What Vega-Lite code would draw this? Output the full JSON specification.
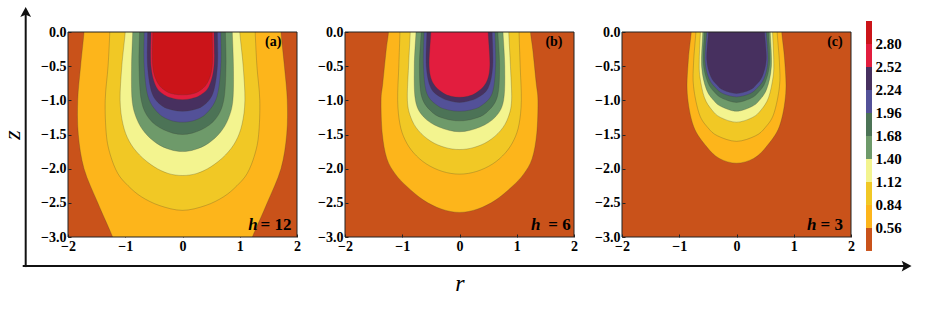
{
"$schema": "https://vega.github.io/schema/vega-lite/v6.json",
"background": "white",
"padding": {"left": 0, "top": 7, "right": 5, "bottom": 5},
"bounds": "flush",
"spacing": 15,
"config": {
  "view": {"stroke": null},
  "axis": {"labelFont": "Liberation Serif, Times New Roman, DejaVu Serif, serif", "labelFontWeight": "bold", "labelFontSize": 14, "labelColor": "#000",
           "titleFont": "Liberation Serif, Times New Roman, DejaVu Serif, serif", "titleFontStyle": "italic", "titleFontWeight": "normal", "titleFontSize": 24, "titleColor": "#000",
           "grid": false, "domain": false, "ticks": false, "labelFlush": false, "labelOverlap": false}
},
"datasets": {
"a": [
{"l":1,"i":0,"r":-1.72,"z":0.2},{"l":1,"i":1,"r":-1.72,"z":0},{"l":1,"i":2,"r":-1.78,"z":-0.5},{"l":1,"i":3,"r":-1.83,"z":-1},{"l":1,"i":4,"r":-1.82,"z":-1.5},{"l":1,"i":5,"r":-1.72,"z":-2},{"l":1,"i":6,"r":-1.48,"z":-2.5},{"l":1,"i":7,"r":-1.22,"z":-3},{"l":1,"i":8,"r":-1.14,"z":-3.2},{"l":1,"i":9,"r":1.14,"z":-3.2},{"l":1,"i":10,"r":1.22,"z":-3},{"l":1,"i":11,"r":1.48,"z":-2.5},{"l":1,"i":12,"r":1.72,"z":-2},{"l":1,"i":13,"r":1.82,"z":-1.5},{"l":1,"i":14,"r":1.83,"z":-1},{"l":1,"i":15,"r":1.78,"z":-0.5},{"l":1,"i":16,"r":1.72,"z":0},{"l":1,"i":17,"r":1.72,"z":0.2},
{"l":2,"i":0,"r":-1.27,"z":0.2},{"l":2,"i":1,"r":-1.27,"z":0},{"l":2,"i":2,"r":-1.3,"z":-0.5},{"l":2,"i":3,"r":-1.35,"z":-1},{"l":2,"i":4,"r":-1.33,"z":-1.5},{"l":2,"i":5,"r":-1.26,"z":-1.8},{"l":2,"i":6,"r":-1.13,"z":-2.07},{"l":2,"i":7,"r":-0.95,"z":-2.25},{"l":2,"i":8,"r":-0.72,"z":-2.41},{"l":2,"i":9,"r":-0.4,"z":-2.54},{"l":2,"i":10,"r":0,"z":-2.61},{"l":2,"i":11,"r":0.4,"z":-2.54},{"l":2,"i":12,"r":0.72,"z":-2.41},{"l":2,"i":13,"r":0.95,"z":-2.25},{"l":2,"i":14,"r":1.13,"z":-2.07},{"l":2,"i":15,"r":1.26,"z":-1.8},{"l":2,"i":16,"r":1.33,"z":-1.5},{"l":2,"i":17,"r":1.35,"z":-1},{"l":2,"i":18,"r":1.3,"z":-0.5},{"l":2,"i":19,"r":1.27,"z":0},{"l":2,"i":20,"r":1.27,"z":0.2},
{"l":3,"i":0,"r":-1,"z":0.2},{"l":3,"i":1,"r":-1,"z":0},{"l":3,"i":2,"r":-1.06,"z":-0.5},{"l":3,"i":3,"r":-1.09,"z":-1},{"l":3,"i":4,"r":-1.04,"z":-1.35},{"l":3,"i":5,"r":-0.93,"z":-1.6},{"l":3,"i":6,"r":-0.75,"z":-1.8},{"l":3,"i":7,"r":-0.5,"z":-1.97},{"l":3,"i":8,"r":-0.25,"z":-2.07},{"l":3,"i":9,"r":0,"z":-2.1},{"l":3,"i":10,"r":0.25,"z":-2.07},{"l":3,"i":11,"r":0.5,"z":-1.97},{"l":3,"i":12,"r":0.75,"z":-1.8},{"l":3,"i":13,"r":0.93,"z":-1.6},{"l":3,"i":14,"r":1.04,"z":-1.35},{"l":3,"i":15,"r":1.09,"z":-1},{"l":3,"i":16,"r":1.06,"z":-0.5},{"l":3,"i":17,"r":1,"z":0},{"l":3,"i":18,"r":1,"z":0.2},
{"l":4,"i":0,"r":-0.87,"z":0.2},{"l":4,"i":1,"r":-0.87,"z":0},{"l":4,"i":2,"r":-0.89,"z":-0.5},{"l":4,"i":3,"r":-0.88,"z":-1},{"l":4,"i":4,"r":-0.8,"z":-1.27},{"l":4,"i":5,"r":-0.66,"z":-1.47},{"l":4,"i":6,"r":-0.45,"z":-1.63},{"l":4,"i":7,"r":-0.22,"z":-1.72},{"l":4,"i":8,"r":0,"z":-1.75},{"l":4,"i":9,"r":0.22,"z":-1.72},{"l":4,"i":10,"r":0.45,"z":-1.63},{"l":4,"i":11,"r":0.66,"z":-1.47},{"l":4,"i":12,"r":0.8,"z":-1.27},{"l":4,"i":13,"r":0.88,"z":-1},{"l":4,"i":14,"r":0.89,"z":-0.5},{"l":4,"i":15,"r":0.87,"z":0},{"l":4,"i":16,"r":0.87,"z":0.2},
{"l":5,"i":0,"r":-0.75,"z":0.2},{"l":5,"i":1,"r":-0.75,"z":0},{"l":5,"i":2,"r":-0.76,"z":-0.5},{"l":5,"i":3,"r":-0.72,"z":-1},{"l":5,"i":4,"r":-0.58,"z":-1.27},{"l":5,"i":5,"r":-0.33,"z":-1.43},{"l":5,"i":6,"r":0,"z":-1.5},{"l":5,"i":7,"r":0.33,"z":-1.43},{"l":5,"i":8,"r":0.58,"z":-1.27},{"l":5,"i":9,"r":0.72,"z":-1},{"l":5,"i":10,"r":0.76,"z":-0.5},{"l":5,"i":11,"r":0.75,"z":0},{"l":5,"i":12,"r":0.75,"z":0.2},
{"l":6,"i":0,"r":-0.67,"z":0.2},{"l":6,"i":1,"r":-0.67,"z":0},{"l":6,"i":2,"r":-0.67,"z":-0.5},{"l":6,"i":3,"r":-0.6,"z":-0.95},{"l":6,"i":4,"r":-0.42,"z":-1.19},{"l":6,"i":5,"r":-0.22,"z":-1.29},{"l":6,"i":6,"r":0,"z":-1.32},{"l":6,"i":7,"r":0.22,"z":-1.29},{"l":6,"i":8,"r":0.42,"z":-1.19},{"l":6,"i":9,"r":0.6,"z":-0.95},{"l":6,"i":10,"r":0.67,"z":-0.5},{"l":6,"i":11,"r":0.67,"z":0},{"l":6,"i":12,"r":0.67,"z":0.2},
{"l":7,"i":0,"r":-0.61,"z":0.2},{"l":7,"i":1,"r":-0.61,"z":0},{"l":7,"i":2,"r":-0.61,"z":-0.5},{"l":7,"i":3,"r":-0.53,"z":-0.9},{"l":7,"i":4,"r":-0.36,"z":-1.08},{"l":7,"i":5,"r":-0.18,"z":-1.14},{"l":7,"i":6,"r":0,"z":-1.16},{"l":7,"i":7,"r":0.18,"z":-1.14},{"l":7,"i":8,"r":0.36,"z":-1.08},{"l":7,"i":9,"r":0.53,"z":-0.9},{"l":7,"i":10,"r":0.61,"z":-0.5},{"l":7,"i":11,"r":0.61,"z":0},{"l":7,"i":12,"r":0.61,"z":0.2},
{"l":8,"i":0,"r":-0.55,"z":0.2},{"l":8,"i":1,"r":-0.55,"z":0},{"l":8,"i":2,"r":-0.55,"z":-0.5},{"l":8,"i":3,"r":-0.46,"z":-0.8},{"l":8,"i":4,"r":-0.3,"z":-0.93},{"l":8,"i":5,"r":-0.15,"z":-0.975},{"l":8,"i":6,"r":0,"z":-0.99},{"l":8,"i":7,"r":0.15,"z":-0.975},{"l":8,"i":8,"r":0.3,"z":-0.93},{"l":8,"i":9,"r":0.46,"z":-0.8},{"l":8,"i":10,"r":0.55,"z":-0.5},{"l":8,"i":11,"r":0.55,"z":0},{"l":8,"i":12,"r":0.55,"z":0.2},
{"l":9,"i":0,"r":-0.52,"z":0.2},{"l":9,"i":1,"r":-0.52,"z":0},{"l":9,"i":2,"r":-0.52,"z":-0.5},{"l":9,"i":3,"r":-0.43,"z":-0.75},{"l":9,"i":4,"r":-0.28,"z":-0.87},{"l":9,"i":5,"r":-0.14,"z":-0.91},{"l":9,"i":6,"r":0,"z":-0.92},{"l":9,"i":7,"r":0.14,"z":-0.91},{"l":9,"i":8,"r":0.28,"z":-0.87},{"l":9,"i":9,"r":0.43,"z":-0.75},{"l":9,"i":10,"r":0.52,"z":-0.5},{"l":9,"i":11,"r":0.52,"z":0},{"l":9,"i":12,"r":0.52,"z":0.2}
],
"b": [
{"l":1,"i":0,"r":-1.24,"z":0.2},{"l":1,"i":1,"r":-1.24,"z":0},{"l":1,"i":2,"r":-1.28,"z":-0.26},{"l":1,"i":3,"r":-1.34,"z":-0.75},{"l":1,"i":4,"r":-1.37,"z":-1},{"l":1,"i":5,"r":-1.35,"z":-1.48},{"l":1,"i":6,"r":-1.27,"z":-1.85},{"l":1,"i":7,"r":-1.12,"z":-2.08},{"l":1,"i":8,"r":-0.92,"z":-2.26},{"l":1,"i":9,"r":-0.63,"z":-2.46},{"l":1,"i":10,"r":-0.32,"z":-2.59},{"l":1,"i":11,"r":0,"z":-2.64},{"l":1,"i":12,"r":0.32,"z":-2.59},{"l":1,"i":13,"r":0.63,"z":-2.46},{"l":1,"i":14,"r":0.92,"z":-2.26},{"l":1,"i":15,"r":1.12,"z":-2.08},{"l":1,"i":16,"r":1.27,"z":-1.85},{"l":1,"i":17,"r":1.35,"z":-1.48},{"l":1,"i":18,"r":1.37,"z":-1},{"l":1,"i":19,"r":1.34,"z":-0.75},{"l":1,"i":20,"r":1.28,"z":-0.26},{"l":1,"i":21,"r":1.24,"z":0},{"l":1,"i":22,"r":1.24,"z":0.2},
{"l":2,"i":0,"r":-1.04,"z":0.2},{"l":2,"i":1,"r":-1.04,"z":0},{"l":2,"i":2,"r":-1.06,"z":-0.5},{"l":2,"i":3,"r":-1.08,"z":-1},{"l":2,"i":4,"r":-1.04,"z":-1.35},{"l":2,"i":5,"r":-0.95,"z":-1.58},{"l":2,"i":6,"r":-0.8,"z":-1.77},{"l":2,"i":7,"r":-0.58,"z":-1.93},{"l":2,"i":8,"r":-0.3,"z":-2.04},{"l":2,"i":9,"r":0,"z":-2.08},{"l":2,"i":10,"r":0.3,"z":-2.04},{"l":2,"i":11,"r":0.58,"z":-1.93},{"l":2,"i":12,"r":0.8,"z":-1.77},{"l":2,"i":13,"r":0.95,"z":-1.58},{"l":2,"i":14,"r":1.04,"z":-1.35},{"l":2,"i":15,"r":1.08,"z":-1},{"l":2,"i":16,"r":1.06,"z":-0.5},{"l":2,"i":17,"r":1.04,"z":0},{"l":2,"i":18,"r":1.04,"z":0.2},
{"l":3,"i":0,"r":-0.86,"z":0.2},{"l":3,"i":1,"r":-0.86,"z":0},{"l":3,"i":2,"r":-0.89,"z":-0.5},{"l":3,"i":3,"r":-0.91,"z":-1},{"l":3,"i":4,"r":-0.85,"z":-1.25},{"l":3,"i":5,"r":-0.72,"z":-1.44},{"l":3,"i":6,"r":-0.5,"z":-1.6},{"l":3,"i":7,"r":-0.25,"z":-1.69},{"l":3,"i":8,"r":0,"z":-1.72},{"l":3,"i":9,"r":0.25,"z":-1.69},{"l":3,"i":10,"r":0.5,"z":-1.6},{"l":3,"i":11,"r":0.72,"z":-1.44},{"l":3,"i":12,"r":0.85,"z":-1.25},{"l":3,"i":13,"r":0.91,"z":-1},{"l":3,"i":14,"r":0.89,"z":-0.5},{"l":3,"i":15,"r":0.86,"z":0},{"l":3,"i":16,"r":0.86,"z":0.2},
{"l":4,"i":0,"r":-0.76,"z":0.2},{"l":4,"i":1,"r":-0.76,"z":0},{"l":4,"i":2,"r":-0.79,"z":-0.5},{"l":4,"i":3,"r":-0.77,"z":-1},{"l":4,"i":4,"r":-0.63,"z":-1.24},{"l":4,"i":5,"r":-0.36,"z":-1.39},{"l":4,"i":6,"r":0,"z":-1.46},{"l":4,"i":7,"r":0.36,"z":-1.39},{"l":4,"i":8,"r":0.63,"z":-1.24},{"l":4,"i":9,"r":0.77,"z":-1},{"l":4,"i":10,"r":0.79,"z":-0.5},{"l":4,"i":11,"r":0.76,"z":0},{"l":4,"i":12,"r":0.76,"z":0.2},
{"l":5,"i":0,"r":-0.67,"z":0.2},{"l":5,"i":1,"r":-0.67,"z":0},{"l":5,"i":2,"r":-0.7,"z":-0.5},{"l":5,"i":3,"r":-0.66,"z":-0.95},{"l":5,"i":4,"r":-0.47,"z":-1.18},{"l":5,"i":5,"r":-0.25,"z":-1.27},{"l":5,"i":6,"r":0,"z":-1.3},{"l":5,"i":7,"r":0.25,"z":-1.27},{"l":5,"i":8,"r":0.47,"z":-1.18},{"l":5,"i":9,"r":0.66,"z":-0.95},{"l":5,"i":10,"r":0.7,"z":-0.5},{"l":5,"i":11,"r":0.67,"z":0},{"l":5,"i":12,"r":0.67,"z":0.2},
{"l":6,"i":0,"r":-0.62,"z":0.2},{"l":6,"i":1,"r":-0.62,"z":0},{"l":6,"i":2,"r":-0.63,"z":-0.5},{"l":6,"i":3,"r":-0.57,"z":-0.9},{"l":6,"i":4,"r":-0.38,"z":-1.08},{"l":6,"i":5,"r":-0.2,"z":-1.14},{"l":6,"i":6,"r":0,"z":-1.16},{"l":6,"i":7,"r":0.2,"z":-1.14},{"l":6,"i":8,"r":0.38,"z":-1.08},{"l":6,"i":9,"r":0.57,"z":-0.9},{"l":6,"i":10,"r":0.63,"z":-0.5},{"l":6,"i":11,"r":0.62,"z":0},{"l":6,"i":12,"r":0.62,"z":0.2},
{"l":7,"i":0,"r":-0.57,"z":0.2},{"l":7,"i":1,"r":-0.57,"z":0},{"l":7,"i":2,"r":-0.58,"z":-0.5},{"l":7,"i":3,"r":-0.5,"z":-0.82},{"l":7,"i":4,"r":-0.32,"z":-0.96},{"l":7,"i":5,"r":-0.16,"z":-1.01},{"l":7,"i":6,"r":0,"z":-1.03},{"l":7,"i":7,"r":0.16,"z":-1.01},{"l":7,"i":8,"r":0.32,"z":-0.96},{"l":7,"i":9,"r":0.5,"z":-0.82},{"l":7,"i":10,"r":0.58,"z":-0.5},{"l":7,"i":11,"r":0.57,"z":0},{"l":7,"i":12,"r":0.57,"z":0.2},
{"l":8,"i":0,"r":-0.5,"z":0.2},{"l":8,"i":1,"r":-0.5,"z":0},{"l":8,"i":2,"r":-0.53,"z":-0.5},{"l":8,"i":3,"r":-0.46,"z":-0.75},{"l":8,"i":4,"r":-0.29,"z":-0.89},{"l":8,"i":5,"r":-0.15,"z":-0.94},{"l":8,"i":6,"r":0,"z":-0.955},{"l":8,"i":7,"r":0.15,"z":-0.94},{"l":8,"i":8,"r":0.29,"z":-0.89},{"l":8,"i":9,"r":0.46,"z":-0.75},{"l":8,"i":10,"r":0.53,"z":-0.5},{"l":8,"i":11,"r":0.5,"z":0},{"l":8,"i":12,"r":0.5,"z":0.2}
],
"c": [
{"l":1,"i":0,"r":-0.79,"z":0.2},{"l":1,"i":1,"r":-0.79,"z":0},{"l":1,"i":2,"r":-0.84,"z":-0.4},{"l":1,"i":3,"r":-0.86,"z":-0.9},{"l":1,"i":4,"r":-0.75,"z":-1.38},{"l":1,"i":5,"r":-0.52,"z":-1.68},{"l":1,"i":6,"r":-0.3,"z":-1.85},{"l":1,"i":7,"r":0,"z":-1.92},{"l":1,"i":8,"r":0.3,"z":-1.85},{"l":1,"i":9,"r":0.52,"z":-1.68},{"l":1,"i":10,"r":0.75,"z":-1.38},{"l":1,"i":11,"r":0.86,"z":-0.9},{"l":1,"i":12,"r":0.84,"z":-0.4},{"l":1,"i":13,"r":0.79,"z":0},{"l":1,"i":14,"r":0.79,"z":0.2},
{"l":2,"i":0,"r":-0.71,"z":0.2},{"l":2,"i":1,"r":-0.71,"z":0},{"l":2,"i":2,"r":-0.75,"z":-0.45},{"l":2,"i":3,"r":-0.75,"z":-0.8},{"l":2,"i":4,"r":-0.65,"z":-1.2},{"l":2,"i":5,"r":-0.5,"z":-1.4},{"l":2,"i":6,"r":-0.33,"z":-1.52},{"l":2,"i":7,"r":0,"z":-1.6},{"l":2,"i":8,"r":0.33,"z":-1.52},{"l":2,"i":9,"r":0.5,"z":-1.4},{"l":2,"i":10,"r":0.65,"z":-1.2},{"l":2,"i":11,"r":0.75,"z":-0.8},{"l":2,"i":12,"r":0.75,"z":-0.45},{"l":2,"i":13,"r":0.71,"z":0},{"l":2,"i":14,"r":0.71,"z":0.2},
{"l":3,"i":0,"r":-0.63,"z":0.2},{"l":3,"i":1,"r":-0.63,"z":0},{"l":3,"i":2,"r":-0.65,"z":-0.4},{"l":3,"i":3,"r":-0.64,"z":-0.65},{"l":3,"i":4,"r":-0.56,"z":-0.96},{"l":3,"i":5,"r":-0.43,"z":-1.14},{"l":3,"i":6,"r":-0.28,"z":-1.25},{"l":3,"i":7,"r":0,"z":-1.32},{"l":3,"i":8,"r":0.28,"z":-1.25},{"l":3,"i":9,"r":0.43,"z":-1.14},{"l":3,"i":10,"r":0.56,"z":-0.96},{"l":3,"i":11,"r":0.64,"z":-0.65},{"l":3,"i":12,"r":0.65,"z":-0.4},{"l":3,"i":13,"r":0.63,"z":0},{"l":3,"i":14,"r":0.63,"z":0.2},
{"l":4,"i":0,"r":-0.59,"z":0.2},{"l":4,"i":1,"r":-0.59,"z":0},{"l":4,"i":2,"r":-0.61,"z":-0.5},{"l":4,"i":3,"r":-0.53,"z":-0.83},{"l":4,"i":4,"r":-0.4,"z":-1},{"l":4,"i":5,"r":-0.27,"z":-1.09},{"l":4,"i":6,"r":0,"z":-1.16},{"l":4,"i":7,"r":0.27,"z":-1.09},{"l":4,"i":8,"r":0.4,"z":-1},{"l":4,"i":9,"r":0.53,"z":-0.83},{"l":4,"i":10,"r":0.61,"z":-0.5},{"l":4,"i":11,"r":0.59,"z":0},{"l":4,"i":12,"r":0.59,"z":0.2},
{"l":5,"i":0,"r":-0.56,"z":0.2},{"l":5,"i":1,"r":-0.56,"z":0},{"l":5,"i":2,"r":-0.58,"z":-0.45},{"l":5,"i":3,"r":-0.5,"z":-0.74},{"l":5,"i":4,"r":-0.38,"z":-0.885},{"l":5,"i":5,"r":-0.25,"z":-0.97},{"l":5,"i":6,"r":0,"z":-1.03},{"l":5,"i":7,"r":0.25,"z":-0.97},{"l":5,"i":8,"r":0.38,"z":-0.885},{"l":5,"i":9,"r":0.5,"z":-0.74},{"l":5,"i":10,"r":0.58,"z":-0.45},{"l":5,"i":11,"r":0.56,"z":0},{"l":5,"i":12,"r":0.56,"z":0.2},
{"l":6,"i":0,"r":-0.52,"z":0.2},{"l":6,"i":1,"r":-0.52,"z":0},{"l":6,"i":2,"r":-0.55,"z":-0.42},{"l":6,"i":3,"r":-0.48,"z":-0.685},{"l":6,"i":4,"r":-0.36,"z":-0.82},{"l":6,"i":5,"r":-0.24,"z":-0.9},{"l":6,"i":6,"r":0,"z":-0.95},{"l":6,"i":7,"r":0.24,"z":-0.9},{"l":6,"i":8,"r":0.36,"z":-0.82},{"l":6,"i":9,"r":0.48,"z":-0.685},{"l":6,"i":10,"r":0.55,"z":-0.42},{"l":6,"i":11,"r":0.52,"z":0},{"l":6,"i":12,"r":0.52,"z":0.2},
{"l":7,"i":0,"r":-0.49,"z":0.2},{"l":7,"i":1,"r":-0.49,"z":0},{"l":7,"i":2,"r":-0.52,"z":-0.4},{"l":7,"i":3,"r":-0.45,"z":-0.65},{"l":7,"i":4,"r":-0.34,"z":-0.775},{"l":7,"i":5,"r":-0.23,"z":-0.85},{"l":7,"i":6,"r":0,"z":-0.9},{"l":7,"i":7,"r":0.23,"z":-0.85},{"l":7,"i":8,"r":0.34,"z":-0.775},{"l":7,"i":9,"r":0.45,"z":-0.65},{"l":7,"i":10,"r":0.52,"z":-0.4},{"l":7,"i":11,"r":0.49,"z":0},{"l":7,"i":12,"r":0.49,"z":0.2}
],
"bar": [
{"l":0,"lo":0.28,"hi":0.56},{"l":1,"lo":0.56,"hi":0.84},{"l":2,"lo":0.84,"hi":1.12},{"l":3,"lo":1.12,"hi":1.4},{"l":4,"lo":1.4,"hi":1.68},{"l":5,"lo":1.68,"hi":1.96},{"l":6,"lo":1.96,"hi":2.24},{"l":7,"lo":2.24,"hi":2.52},{"l":8,"lo":2.52,"hi":2.8},{"l":9,"lo":2.8,"hi":3.08}
]
},
"hconcat": [
{
 "width": 229, "height": 205,
 "view": {"fill": "#C9521A"},
 "layer": [
  {"data": {"name": "a"},
   "mark": {"type": "line", "filled": true, "interpolate": "cardinal", "clip": true, "fillOpacity": 1, "stroke": "#3a3a30", "strokeWidth": 0.5, "strokeOpacity": 0.5},
   "encoding": {
    "x": {"field": "r", "type": "quantitative", "scale": {"domain": [-2, 2], "nice": false, "zero": false}, "axis": {"values": [-2, -1, 0, 1, 2], "tickCount": 10, "format": "d", "title": null, "ticks": true, "tickSize": -3, "tickColor": "#222", "labelPadding": 5, "labelOverlap": false}},
    "y": {"field": "z", "type": "quantitative", "scale": {"domain": [-3, 0], "nice": false, "zero": false}, "axis": {"values": [0, -0.5, -1, -1.5, -2, -2.5, -3], "tickCount": 10, "format": ".1f", "title": "z", "titlePadding": 16, "ticks": true, "tickSize": -3, "tickColor": "#222", "labelPadding": 5, "labelOverlap": false}},
    "color": {"field": "l", "type": "ordinal", "scale": {"domain": [0,1,2,3,4,5,6,7,8,9], "range": ["#C9521A","#FDB51B","#F1C825","#F3F48F","#6E9A6A","#4C7356","#535198","#47305F","#E21D3E","#CB1419"]}, "legend": null},
    "order": {"field": "i", "type": "quantitative"}
   }},
  {"data": {"values": [{}]}, "mark": {"type": "rect", "filled": false, "stroke": "#222", "strokeWidth": 1},
   "encoding": {"x": {"datum": -2}, "x2": {"datum": 2}, "y": {"datum": 0}, "y2": {"datum": -3}}},
  {"data": {"values": [{}]}, "mark": {"type": "text", "text": "(a)", "font": "Liberation Serif, Times New Roman, DejaVu Serif, serif", "fontWeight": "bold", "fontSize": 14, "align": "center", "baseline": "middle"},
   "encoding": {"x": {"datum": 1.585}, "y": {"datum": -0.146}}},
  {"data": {"values": [{}]}, "mark": {"type": "text", "text": "h", "font": "Liberation Serif, Times New Roman, DejaVu Serif, serif", "fontWeight": "bold", "fontStyle": "italic", "fontSize": 17, "align": "left", "baseline": "alphabetic"},
   "encoding": {"x": {"datum": 1.15}, "y": {"datum": -2.895}}},
  {"data": {"values": [{}]}, "mark": {"type": "text", "text": "= 12", "font": "Liberation Serif, Times New Roman, DejaVu Serif, serif", "fontWeight": "bold", "fontSize": 17, "align": "right", "baseline": "alphabetic"},
   "encoding": {"x": {"datum": 1.902}, "y": {"datum": -2.895}}},
  {"data": {"values": [{}]}, "mark": {"type": "rule", "strokeWidth": 2, "color": "#111"},
   "encoding": {"x": {"datum": -2.739}, "y": {"datum": 0.263}, "y2": {"datum": -3.44}}},
  {"data": {"values": [{}]}, "mark": {"type": "rule", "strokeWidth": 2, "color": "#111"},
   "encoding": {"y": {"datum": -3.425}, "x": {"datum": -2.791}, "x2": {"datum": 12.63}}},
  {"data": {"values": [{}]}, "mark": {"type": "point", "shape": "M0,-1L0.9,0.65L0,0.3L-0.9,0.65Z", "size": 144, "filled": true, "color": "#111", "opacity": 1, "strokeWidth": 0},
   "encoding": {"x": {"datum": -2.739}, "y": {"datum": 0.278}}},
  {"data": {"values": [{}]}, "mark": {"type": "point", "shape": "M1,0L-0.65,0.9L-0.3,0L-0.65,-0.9Z", "size": 144, "filled": true, "color": "#111", "opacity": 1, "strokeWidth": 0},
   "encoding": {"x": {"datum": 12.63}, "y": {"datum": -3.425}}}
 ]
},
{"width": 18, "height": 205, "data": {"values": []}, "mark": "point"},
{
 "width": 229, "height": 205,
 "view": {"fill": "#C9521A"},
 "layer": [
  {"data": {"name": "b"},
   "mark": {"type": "line", "filled": true, "interpolate": "cardinal", "clip": true, "fillOpacity": 1, "stroke": "#3a3a30", "strokeWidth": 0.5, "strokeOpacity": 0.5},
   "encoding": {
    "x": {"field": "r", "type": "quantitative", "scale": {"domain": [-2, 2], "nice": false, "zero": false}, "axis": {"values": [-2, -1, 0, 1, 2], "tickCount": 10, "format": "d", "title": "r", "titlePadding": 18, "ticks": true, "tickSize": -3, "tickColor": "#222", "labelPadding": 5, "labelOverlap": false}},
    "y": {"field": "z", "type": "quantitative", "scale": {"domain": [-3, 0], "nice": false, "zero": false}, "axis": {"values": [0, -0.5, -1, -1.5, -2, -2.5, -3], "tickCount": 10, "format": ".1f", "title": null, "ticks": true, "tickSize": -3, "tickColor": "#222", "labelPadding": 5, "labelOverlap": false}},
    "color": {"field": "l", "type": "ordinal", "scale": {"domain": [0,1,2,3,4,5,6,7,8,9], "range": ["#C9521A","#FDB51B","#F1C825","#F3F48F","#6E9A6A","#4C7356","#535198","#47305F","#E21D3E","#CB1419"]}, "legend": null},
    "order": {"field": "i", "type": "quantitative"}
   }},
  {"data": {"values": [{}]}, "mark": {"type": "rect", "filled": false, "stroke": "#222", "strokeWidth": 1},
   "encoding": {"x": {"datum": -2}, "x2": {"datum": 2}, "y": {"datum": 0}, "y2": {"datum": -3}}},
  {"data": {"values": [{}]}, "mark": {"type": "text", "text": "(b)", "font": "Liberation Serif, Times New Roman, DejaVu Serif, serif", "fontWeight": "bold", "fontSize": 14, "align": "center", "baseline": "middle"},
   "encoding": {"x": {"datum": 1.65}, "y": {"datum": -0.146}}},
  {"data": {"values": [{}]}, "mark": {"type": "text", "text": "h", "font": "Liberation Serif, Times New Roman, DejaVu Serif, serif", "fontWeight": "bold", "fontStyle": "italic", "fontSize": 17, "align": "left", "baseline": "alphabetic"},
   "encoding": {"x": {"datum": 1.25}, "y": {"datum": -2.895}}},
  {"data": {"values": [{}]}, "mark": {"type": "text", "text": "= 6", "font": "Liberation Serif, Times New Roman, DejaVu Serif, serif", "fontWeight": "bold", "fontSize": 17, "align": "right", "baseline": "alphabetic"},
   "encoding": {"x": {"datum": 1.942}, "y": {"datum": -2.895}}}
 ]
},
{"width": 18, "height": 205, "data": {"values": []}, "mark": "point"},
{
 "width": 229, "height": 205,
 "view": {"fill": "#C9521A"},
 "layer": [
  {"data": {"name": "c"},
   "mark": {"type": "line", "filled": true, "interpolate": "cardinal", "clip": true, "fillOpacity": 1, "stroke": "#3a3a30", "strokeWidth": 0.5, "strokeOpacity": 0.5},
   "encoding": {
    "x": {"field": "r", "type": "quantitative", "scale": {"domain": [-2, 2], "nice": false, "zero": false}, "axis": {"values": [-2, -1, 0, 1, 2], "tickCount": 10, "format": "d", "title": null, "ticks": true, "tickSize": -3, "tickColor": "#222", "labelPadding": 5, "labelOverlap": false}},
    "y": {"field": "z", "type": "quantitative", "scale": {"domain": [-3, 0], "nice": false, "zero": false}, "axis": {"values": [0, -0.5, -1, -1.5, -2, -2.5, -3], "tickCount": 10, "format": ".1f", "title": null, "ticks": true, "tickSize": -3, "tickColor": "#222", "labelPadding": 5, "labelOverlap": false}},
    "color": {"field": "l", "type": "ordinal", "scale": {"domain": [0,1,2,3,4,5,6,7,8,9], "range": ["#C9521A","#FDB51B","#F1C825","#F3F48F","#6E9A6A","#4C7356","#535198","#47305F","#E21D3E","#CB1419"]}, "legend": null},
    "order": {"field": "i", "type": "quantitative"}
   }},
  {"data": {"values": [{}]}, "mark": {"type": "rect", "filled": false, "stroke": "#222", "strokeWidth": 1},
   "encoding": {"x": {"datum": -2}, "x2": {"datum": 2}, "y": {"datum": 0}, "y2": {"datum": -3}}},
  {"data": {"values": [{}]}, "mark": {"type": "text", "text": "(c)", "font": "Liberation Serif, Times New Roman, DejaVu Serif, serif", "fontWeight": "bold", "fontSize": 14, "align": "center", "baseline": "middle"},
   "encoding": {"x": {"datum": 1.72}, "y": {"datum": -0.146}}},
  {"data": {"values": [{}]}, "mark": {"type": "text", "text": "h", "font": "Liberation Serif, Times New Roman, DejaVu Serif, serif", "fontWeight": "bold", "fontStyle": "italic", "fontSize": 17, "align": "left", "baseline": "alphabetic"},
   "encoding": {"x": {"datum": 1.23}, "y": {"datum": -2.895}}},
  {"data": {"values": [{}]}, "mark": {"type": "text", "text": "= 3", "font": "Liberation Serif, Times New Roman, DejaVu Serif, serif", "fontWeight": "bold", "fontSize": 17, "align": "right", "baseline": "alphabetic"},
   "encoding": {"x": {"datum": 1.86}, "y": {"datum": -2.895}}}
 ]
},
{
 "width": 6, "height": 205,
 "data": {"name": "bar"},
 "mark": {"type": "rect"},
 "encoding": {
  "y": {"field": "lo", "type": "quantitative", "scale": {"domain": [0.45, 2.946], "nice": false, "zero": false},
        "axis": {"orient": "right", "values": [0.56, 0.84, 1.12, 1.4, 1.68, 1.96, 2.24, 2.52, 2.8], "tickCount": 12, "format": ".2f", "title": null, "labelPadding": 3, "labelFontSize": 15, "labelOverlap": false}},
  "y2": {"field": "hi"},
  "color": {"field": "l", "type": "ordinal", "scale": {"domain": [0,1,2,3,4,5,6,7,8,9], "range": ["#C9521A","#FDB51B","#F1C825","#F3F48F","#6E9A6A","#4C7356","#535198","#47305F","#E21D3E","#CB1419"]}, "legend": null}
 }
}
]
}
